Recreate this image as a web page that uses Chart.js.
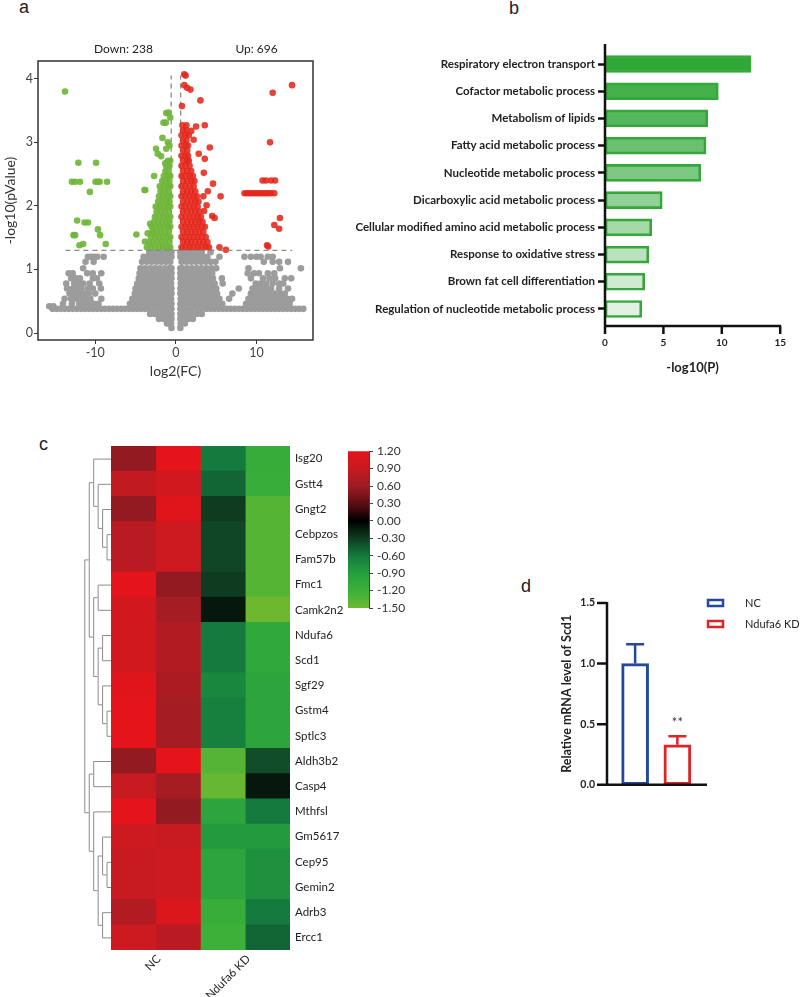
<!DOCTYPE html>
<html>
<head>
<meta charset="utf-8">
<script src="https://cdn.jsdelivr.net/npm/chart.js@4.4.1/dist/chart.umd.min.js"></script>
<style>
  body { margin: 0; width: 800px; height: 997px; position: relative; overflow: hidden; background: #fff; }
  .box { position: absolute; }
  .tag { position: absolute; font: 18px/18px "Liberation Sans", Arial, sans-serif; color: #222; }
</style>
</head>
<body>
<div class="tag" style="left:19px;top:-2px">a</div>
<div class="tag" style="left:509px;top:-1px">b</div>
<div class="tag" style="left:39px;top:435px">c</div>
<div class="tag" style="left:521px;top:577px">d</div>

<div class="box" style="left:0;top:0;width:330px;height:390px"><canvas id="volcano"></canvas></div>
<div class="box" style="left:330px;top:0;width:470px;height:380px"><canvas id="enrich"></canvas></div>
<div class="box" style="left:0;top:430px;width:350px;height:567px"><canvas id="heat"></canvas></div>
<div class="box" style="left:340px;top:440px;width:90px;height:180px"><canvas id="cbar"></canvas></div>
<div class="box" style="left:520px;top:570px;width:280px;height:240px"><canvas id="scd1"></canvas></div>

<script>
/* global Chart */
const $ = (sel) => document.querySelector(sel);
const FONT = "Lato, 'Open Sans', sans-serif";
const INK = "#222";

// ---------- a: volcano ----------
const volcanoTicksX = [-10, 0, 10];
const volcanoTicksY = [0, 1, 2, 3, 4];
const fcCut = 0.585;
const pCut = 1.3;
const downCount = 238;
const upCount = 696;

const grayRows = [
  [1.27, [-3.3, -2.8, -2.3, -1.8, -1.3, -0.8, -0.55, 0.55, 0.8, 1.3, 1.8, 2.3, 2.8, 3.2, 4.3]],
  [1.2, [-10.9, -10.5, -10.1, -9.75, -8.96, -4.0, -3.5, -3.0, -2.5, -2.0, -1.5, -1.0, -0.55, 0.55, 0.9, 1.4, 1.9, 2.4, 2.9, 3.4, 3.9, 5.4, 8.5, 9.3, 10.0, 10.5, 11.4, 12.0]],
  [1.12, [-11.2, -10.2, -4.2, -3.6, -3.0, -2.4, -1.8, -1.2, -0.7, 0.7, 1.3, 1.9, 2.5, 3.1, 3.7, 4.3, 4.9, 10.9, 12.0, 12.8, 13.9]],
  [1.02, [-11.5, -4.4, -3.8, -3.2, -2.6, -2.0, -1.4, -0.8, -0.55, 0.55, 0.8, 1.4, 2.0, 2.6, 3.2, 3.8, 4.4, 5.0, 9.0, 12.9, 15.5]],
  [0.94, [-13.3, -12.8, -11.0, -10.3, -9.25, -4.5, -3.9, -3.3, -2.7, -2.1, -1.5, -0.9, -0.55, 0.55, 0.9, 1.5, 2.1, 2.7, 3.3, 3.9, 4.5, 8.9, 9.7, 10.3, 11.4, 12.2]],
  [0.86, [-13.0, -12.4, -11.9, -10.3, -9.8, -4.6, -4.0, -3.4, -2.8, -2.2, -1.6, -1.0, -0.55, 0.55, 1.0, 1.6, 2.2, 2.8, 3.4, 4.0, 4.6, 5.7, 9.3, 10.8, 11.6, 12.3, 13.5, 14.3]],
  [0.78, [-13.6, -12.6, -12.0, -11.5, -10.7, -9.5, -4.8, -4.2, -3.6, -3.0, -2.4, -1.8, -1.2, -0.6, 0.6, 1.2, 1.8, 2.4, 3.0, 3.6, 4.2, 4.8, 5.8, 9.9, 10.5, 11.2, 12.0, 12.8, 13.3]],
  [0.7, [-13.5, -12.8, -12.2, -11.7, -10.9, -10.3, -9.3, -5.0, -4.4, -3.8, -3.2, -2.6, -2.0, -1.4, -0.8, -0.55, 0.55, 0.8, 1.4, 2.0, 2.6, 3.2, 3.8, 4.4, 5.0, 7.8, 9.5, 10.1, 10.7, 11.3, 11.8, 12.8, 13.9]],
  [0.62, [-13.2, -12.6, -12.0, -11.4, -10.8, -10.0, -5.1, -4.5, -3.9, -3.3, -2.7, -2.1, -1.5, -0.9, -0.55, 0.55, 0.9, 1.5, 2.1, 2.7, 3.3, 3.9, 4.5, 5.1, 7.0, 9.3, 9.9, 10.5, 11.1, 11.7, 12.3, 12.9, 13.5]],
  [0.54, [-13.8, -13.0, -12.4, -11.8, -11.2, -10.6, -9.25, -5.4, -4.8, -4.2, -3.6, -3.0, -2.4, -1.8, -1.2, -0.6, 0.6, 1.2, 1.8, 2.4, 3.0, 3.6, 4.2, 4.8, 5.4, 6.6, 9.0, 9.6, 10.2, 10.8, 11.4, 12.0, 12.6, 13.2, 13.8, 14.4]],
  [0.46, [-14.0, -12.9, -12.0, -11.4, -10.8, -10.2, -9.6, -5.7, -5.1, -4.5, -3.9, -3.3, -2.7, -2.1, -1.5, -0.9, -0.55, 0.55, 0.9, 1.5, 2.1, 2.7, 3.3, 3.9, 4.5, 5.1, 5.75, 8.7, 9.3, 9.9, 10.5, 11.1, 11.7, 12.3, 12.9, 13.5, 14.1]],
  [0.42, [-15.7, -15.2]],
  [0.38, [-15.3, -14.8, -14.3, -13.8, -13.3, -12.8, -12.3, -11.8, -11.3, -10.8, -10.3, -9.8, -9.3, -8.8, -8.3, -7.8, -7.3, -6.8, -6.3, -5.8, -5.3, -4.8, -4.3, -3.8, -3.3, -2.7, -2.1, -1.5, -0.9, -0.55, 0.55, 0.9, 1.5, 2.1, 2.7, 3.3, 3.8, 4.3, 4.8, 5.3, 5.8, 6.3, 6.8, 7.3, 7.8, 8.3, 8.8, 9.3, 9.8, 10.3, 10.8, 11.3, 11.8, 12.3, 12.8, 13.3, 13.8, 14.3, 14.8, 15.3, 15.8]],
  [0.3, [-3.2, -2.6, -2.0, -1.4, -0.9, -0.55, 0.55, 0.9, 1.4, 2.0, 2.6, 3.2]],
  [0.22, [-2.1, -1.5, -0.9, -0.55, 0.55, 0.9, 1.5, 2.1]],
  [0.15, [-1.1, -0.6, 0.6, 1.1]],
  [0.08, [-0.55, 0.55]],
];

const greenRows = [
  [1.35, [-3.6, -3.1, -2.6, -2.1, -1.6, -1.1, -0.7]],
  [1.43, [-3.3, -2.8, -2.3, -1.8, -1.3, -0.8]],
  [1.51, [-3.1, -2.6, -2.1, -1.6, -1.1, -0.7]],
  [1.59, [-2.9, -2.4, -1.9, -1.4, -0.9]],
  [1.67, [-3.0, -2.5, -2.0, -1.5, -1.0, -0.7]],
  [1.75, [-2.7, -2.2, -1.7, -1.2, -0.8]],
  [1.83, [-2.6, -2.1, -1.6, -1.1, -0.7]],
  [1.91, [-2.4, -1.9, -1.4, -0.9]],
  [1.99, [-2.5, -2.0, -1.5, -1.0, -0.7]],
  [2.07, [-2.2, -1.7, -1.2, -0.8]],
  [2.15, [-2.1, -1.6, -1.1, -0.7]],
  [2.23, [-1.9, -1.4, -0.9]],
  [2.31, [-2.0, -1.5, -1.0, -0.7]],
  [2.39, [-1.7, -1.2, -0.8]],
  [2.47, [-1.5, -1.0, -0.7]],
  [2.55, [-1.3, -0.9]],
  [2.63, [-1.2, -0.8]],
  [2.71, [-1.0, -0.7]],
];
const greenSingles = [
  [-13.75, 3.8], [-12.1, 2.68], [-9.9, 2.68], [-12.9, 2.38], [-12.5, 2.38], [-11.9, 2.38],
  [-9.96, 2.38], [-9.67, 2.38], [-9.46, 2.38], [-8.54, 2.38], [-10.67, 2.22], [-12.25, 1.77],
  [-11.33, 1.74], [-10.9, 1.74], [-12.7, 1.54], [-12.5, 1.54], [-9.67, 1.63], [-9.4, 1.54],
  [-11.96, 1.38], [-11.5, 1.4], [-8.7, 1.4], [-3.9, 2.25], [-3.8, 2.25], [-4.9, 1.55],
  [-2.7, 2.47], [-2.46, 2.9], [-2.25, 2.82], [-1.67, 3.07], [-1.54, 3.31], [-1.25, 3.31],
  [-1.2, 3.46], [-0.92, 3.47], [-0.7, 3.39], [-1.83, 2.78], [-1.33, 2.67], [-3.83, 1.44],
  [-3.2, 1.72], [-2.8, 1.57], [-3.5, 1.57], [-1.0, 3.0], [-0.8, 2.95], [-1.2, 2.9],
];

const redRows = [
  [1.35, [0.7, 1.2, 1.7, 2.2, 2.7, 3.2, 3.7, 4.1]],
  [1.43, [0.9, 1.4, 1.9, 2.4, 2.9, 3.4, 3.9]],
  [1.51, [0.7, 1.2, 1.7, 2.2, 2.7, 3.2, 3.7]],
  [1.59, [0.9, 1.4, 1.9, 2.4, 2.9, 3.4]],
  [1.67, [0.7, 1.2, 1.7, 2.2, 2.7, 3.2, 3.6]],
  [1.75, [0.9, 1.4, 1.9, 2.4, 2.9, 3.3]],
  [1.83, [0.7, 1.2, 1.7, 2.2, 2.7, 3.1]],
  [1.91, [0.9, 1.4, 1.9, 2.4, 2.9]],
  [1.99, [0.7, 1.2, 1.7, 2.2, 2.7]],
  [2.07, [0.9, 1.4, 1.9, 2.4, 2.8]],
  [2.15, [0.7, 1.2, 1.7, 2.2, 2.6]],
  [2.23, [0.9, 1.4, 1.9, 2.4]],
  [2.31, [0.7, 1.2, 1.7, 2.2]],
  [2.39, [0.9, 1.4, 1.9, 2.3]],
  [2.47, [0.7, 1.2, 1.7, 2.1]],
  [2.55, [0.9, 1.4, 1.9]],
  [2.63, [0.7, 1.2, 1.7]],
  [2.71, [0.9, 1.4, 1.6]],
  [2.79, [0.7, 1.2, 1.5]],
  [2.87, [0.9, 1.4]],
  [2.95, [0.7, 1.2, 1.5]],
  [3.03, [0.9, 1.3]],
  [3.11, [0.7, 1.2, 1.6]],
  [3.19, [0.9, 1.3]],
  [3.27, [0.8, 1.3]],
  [2.2, [8.5, 8.8, 9.1, 9.4, 9.7, 10.0, 10.3, 10.6, 10.9, 11.2, 11.5, 11.8, 12.2]],
];
const redSingles = [
  [1.04, 4.07], [1.2, 4.05], [1.04, 3.9], [1.38, 3.86], [1.8, 3.83], [3.04, 3.66], [14.4, 3.9],
  [12.0, 3.78], [0.75, 3.57], [3.58, 3.27], [11.67, 3.0], [4.2, 2.92], [2.83, 2.82], [3.58, 2.74],
  [4.6, 2.35], [10.75, 2.4], [11.17, 2.4], [11.8, 2.4], [12.3, 2.4], [5.54, 2.15], [3.96, 2.23],
  [4.5, 1.84], [4.8, 1.81], [12.9, 1.81], [12.2, 1.7], [12.8, 1.64], [3.8, 2.01], [3.4, 2.15],
  [11.3, 1.38], [11.45, 1.36], [5.4, 1.35], [6.2, 1.31], [1.9, 3.18], [2.2, 3.04], [3.46, 2.52],
  [3.5, 1.92], [2.5, 3.25],
];

// ---------- b: enrichment ----------
const terms = [
  "Respiratory electron transport",
  "Cofactor metabolic process",
  "Metabolism of lipids",
  "Fatty acid metabolic process",
  "Nucleotide metabolic process",
  "Dicarboxylic acid metabolic process",
  "Cellular modified amino acid metabolic process",
  "Response to oxidative stress",
  "Brown fat cell differentiation",
  "Regulation of nucleotide metabolic process",
];
const termScores = [12.5, 9.7, 8.8, 8.65, 8.2, 4.9, 4.0, 3.75, 3.4, 3.15];
const enrichTicks = [0, 5, 10, 15];

// ---------- c: heatmap ----------
const genes = ["Isg20", "Gstt4", "Gngt2", "Cebpzos", "Fam57b", "Fmc1", "Camk2n2", "Ndufa6", "Scd1", "Sgf29",
  "Gstm4", "Sptlc3", "Aldh3b2", "Casp4", "Mthfsl", "Gm5617", "Cep95", "Gemin2", "Adrb3", "Ercc1"];
const heatNC1 = [0.55, 0.85, 0.55, 0.8, 0.8, 1.2, 1.0, 1.0, 1.0, 1.15, 1.2, 1.2, 0.55, 0.9, 1.2, 0.95, 0.9, 0.9, 0.75, 0.95];
const heatNC2 = [1.2, 1.0, 1.15, 0.95, 0.95, 0.55, 0.65, 0.75, 0.75, 0.7, 0.65, 0.65, 1.2, 0.65, 0.55, 0.9, 0.95, 0.95, 1.1, 0.8];
const heatKD1 = [-0.6, -0.5, -0.3, -0.35, -0.35, -0.3, -0.12, -0.6, -0.6, -0.7, -0.65, -0.65, -1.35, -1.45, -1.0, -0.85, -1.0, -1.0, -1.15, -1.2];
const heatKD2 = [-1.1, -1.15, -1.35, -1.35, -1.35, -1.35, -1.5, -1.05, -1.05, -1.0, -1.0, -1.0, -0.38, -0.12, -0.6, -0.85, -0.78, -0.78, -0.6, -0.5];
const heatColumns = [heatNC1, heatNC2, heatKD1, heatKD2];
const groupNames = ["NC", "Ndufa6 KD"];
const groupSize = [2, 2];
// [childA, childB, level]; leaves 0-19, merges numbered from 20
const dendroMerges = [
  [3, 4, 1], [2, 20, 2], [1, 21, 3], [0, 22, 4],
  [5, 6, 3], [10, 11, 1], [9, 25, 2], [7, 8, 2], [27, 26, 3], [24, 28, 4], [23, 29, 5],
  [12, 13, 4], [16, 17, 1], [15, 32, 2], [18, 19, 2], [33, 34, 3], [14, 35, 4], [31, 36, 5],
  [30, 37, 6],
];
const cbTicks = [1.2, 0.9, 0.6, 0.3, 0, -0.3, -0.6, -0.9, -1.2, -1.5];
const heatStops = [
  [1.2, [228, 20, 26]], [0.9, [200, 26, 33]], [0.6, [158, 28, 35]], [0.3, [90, 14, 18]], [0, [0, 0, 0]],
  [-0.3, [15, 60, 32]], [-0.6, [20, 122, 62]], [-0.9, [38, 160, 62]], [-1.2, [60, 176, 56]], [-1.5, [110, 184, 48]],
];

// ---------- d: qPCR ----------
const dGroups = ["NC", "Ndufa6 KD"];
const dMeans = [1.0, 0.33];
const dErr = [0.16, 0.07];
const dSig = ["", "**"];
const dColors = ["#24489c", "#de2428"];
const dTicks = [0, 0.5, 1, 1.5];

Chart.defaults.font.family = FONT;
Chart.defaults.color = INK;
Chart.defaults.animation = false;
Chart.defaults.plugins.legend.display = false;
Chart.defaults.plugins.tooltip.enabled = false;
Chart.defaults.responsive = true;
Chart.defaults.maintainAspectRatio = false;

const rowsToPts = (rows) => rows.flatMap(([y, xs]) => xs.map((x) => ({ x, y })));
const pairsToPts = (pairs) => pairs.map(([x, y]) => ({ x, y }));
const fixTicks = (vals) => (s) => { s.ticks = vals.map((v) => ({ value: v })); };

function heatColor(v) {
  const rgb = (c) => `rgb(${c.map(Math.round).join(",")})`;
  if (v >= heatStops[0][0]) return rgb(heatStops[0][1]);
  for (let i = 0; i < heatStops.length - 1; i++) {
    const [v0, c0] = heatStops[i];
    const [v1, c1] = heatStops[i + 1];
    if (v <= v0 && v >= v1) {
      const t = (v0 - v) / (v0 - v1);
      return rgb(c0.map((k, j) => k + (c1[j] - k) * t));
    }
  }
  return rgb(heatStops[heatStops.length - 1][1]);
}

// ---------- draw a ----------
const volcanoDeco = {
  id: "volcanoDeco",
  afterDraw(chart) {
    const { ctx, chartArea: a, scales: { x } } = chart;
    ctx.save();
    ctx.strokeStyle = "#333";
    ctx.lineWidth = 1.5;
    ctx.strokeRect(a.left, a.top, a.right - a.left, a.bottom - a.top);
    ctx.fillStyle = INK;
    ctx.font = `12px ${FONT}`;
    ctx.textAlign = "center";
    ctx.textBaseline = "middle";
    ctx.fillText(`Down: ${downCount}`, x.getPixelForValue(-6.5), a.top - 12);
    ctx.fillText(`Up: ${upCount}`, x.getPixelForValue(10), a.top - 12);
    ctx.restore();
  },
};

const dash = (pts, order) => ({
  data: pts, showLine: true, pointRadius: 0, borderColor: "#8a8a8a", borderWidth: 1.3,
  borderDash: [5, 4], order,
});

new Chart($("#volcano"), {
  type: "scatter",
  data: {
    datasets: [
      { data: rowsToPts(grayRows), backgroundColor: "#9c9c9c", pointRadius: 3.3, borderWidth: 0, order: 6 },
      dash([{ x: -fcCut, y: pCut }, { x: -fcCut, y: 4.05 }], 5),
      dash([{ x: fcCut, y: pCut }, { x: fcCut, y: 4.05 }], 5),
      { data: rowsToPts(greenRows).concat(pairsToPts(greenSingles)), backgroundColor: "rgba(112,182,58,0.92)", pointRadius: 3.3, borderWidth: 0, order: 3 },
      { data: rowsToPts(redRows).concat(pairsToPts(redSingles)), backgroundColor: "rgba(228,40,28,0.88)", pointRadius: 3.3, borderWidth: 0, order: 2 },
      dash([{ x: -13.7, y: pCut }, { x: 14.4, y: pCut }], 1),
    ],
  },
  options: {
    layout: { padding: { top: 61, right: 17, left: 0, bottom: 0 } },
    scales: {
      x: {
        min: -17.1, max: 17.0,
        afterBuildTicks: fixTicks(volcanoTicksX),
        afterFit: (s) => { s.height = 50; },
        grid: { drawOnChartArea: false, tickLength: 4, color: "#333" },
        border: { display: false },
        ticks: { font: { size: 12.5 }, color: "#444", padding: 1 },
        title: { display: true, text: "log2(FC)", font: { size: 14 }, color: "#333", padding: { top: 0, bottom: 10 } },
      },
      y: {
        min: -0.11, max: 4.28,
        afterBuildTicks: fixTicks(volcanoTicksY),
        afterFit: (s) => { s.width = 38; },
        grid: { drawOnChartArea: false, tickLength: 4, color: "#333" },
        border: { display: false },
        ticks: { font: { size: 12.5 }, color: "#444", padding: 1 },
        title: { display: true, text: "-log10(pValue)", font: { size: 14 }, color: "#333", padding: { top: 2, bottom: 0 } },
      },
    },
  },
  plugins: [volcanoDeco],
});

// ---------- draw b ----------
const enrichAxes = {
  id: "enrichAxes",
  afterDraw(chart) {
    const { ctx, chartArea: a, scales: { x } } = chart;
    const yAxis = 326;
    ctx.save();
    ctx.strokeStyle = "#111";
    ctx.lineWidth = 2.5;
    ctx.beginPath();
    ctx.moveTo(a.left, 44);
    ctx.lineTo(a.left, yAxis);
    ctx.lineTo(x.getPixelForValue(enrichTicks[enrichTicks.length - 1]) + 1, yAxis);
    enrichTicks.forEach((v) => {
      const px = x.getPixelForValue(v);
      ctx.moveTo(px, yAxis);
      ctx.lineTo(px, yAxis + 8);
    });
    ctx.stroke();
    ctx.restore();
  },
};

new Chart($("#enrich"), {
  type: "bar",
  data: {
    labels: terms,
    datasets: [{
      data: termScores,
      backgroundColor: termScores.map((_, i) => `rgba(47,168,54,${(1 - i * 0.095).toFixed(3)})`),
      borderColor: "#37a73d",
      borderWidth: 2,
      borderSkipped: false,
      barThickness: 17,
    }],
  },
  options: {
    indexAxis: "y",
    layout: { padding: { top: 50.4, right: 18.5, left: 0, bottom: 0 } },
    scales: {
      x: {
        min: 0, max: 15,
        afterBuildTicks: fixTicks(enrichTicks),
        afterFit: (s) => { s.height = 57.4; },
        grid: { display: false, drawTicks: false },
        border: { display: false },
        ticks: { font: { size: 10, weight: "bold" }, color: INK, padding: 14 },
        title: { display: true, text: "-log10(P)", font: { size: 13, weight: "bold" }, color: INK, padding: { top: 0, bottom: 4 } },
      },
      y: {
        afterFit: (s) => { s.width = 275; },
        grid: { drawOnChartArea: false, offset: false, tickLength: 7, tickWidth: 2.5, tickColor: "#111" },
        border: { display: false },
        ticks: { font: { size: 11.5, weight: "bold" }, color: INK, padding: 3 },
      },
    },
  },
  plugins: [enrichAxes],
});

// ---------- draw c ----------
const heatDeco = {
  id: "heatDeco",
  afterDraw(chart) {
    const { ctx, chartArea: a, scales: { x, y } } = chart;
    const step = 4.45;
    const nodes = genes.map((_, i) => ({ x: a.left, y: y.getPixelForValue(i) }));
    ctx.save();
    ctx.strokeStyle = "#8c8c8c";
    ctx.lineWidth = 1;
    ctx.beginPath();
    dendroMerges.forEach(([p, q, lvl]) => {
      const nx = a.left - lvl * step;
      const A = nodes[p];
      const B = nodes[q];
      ctx.moveTo(A.x, A.y + 0.5);
      ctx.lineTo(nx + 0.5, A.y + 0.5);
      ctx.lineTo(nx + 0.5, B.y + 0.5);
      ctx.lineTo(B.x, B.y + 0.5);
      nodes.push({ x: nx, y: (A.y + B.y) / 2 });
    });
    ctx.stroke();

    ctx.fillStyle = INK;
    ctx.font = `11.5px ${FONT}`;
    ctx.textAlign = "right";
    ctx.textBaseline = "middle";
    let start = 0;
    groupNames.forEach((name, g) => {
      const cx = x.getPixelForValue(start + groupSize[g] / 2) + 3;
      ctx.save();
      ctx.translate(cx, a.bottom + 7);
      ctx.rotate(-Math.PI / 4);
      ctx.fillText(name, 0, 0);
      ctx.restore();
      start += groupSize[g];
    });
    ctx.restore();
  },
};

new Chart($("#heat"), {
  type: "bar",
  data: {
    labels: genes,
    datasets: heatColumns.map((col) => ({
      data: col.map(() => 1),
      backgroundColor: col.map(heatColor),
      borderWidth: 0,
      barPercentage: 1,
      categoryPercentage: 1,
    })),
  },
  options: {
    indexAxis: "y",
    layout: { padding: { left: 111, top: 16, right: 0, bottom: 47 } },
    scales: {
      x: { stacked: true, min: 0, max: 4, display: false },
      y: {
        stacked: true,
        position: "right",
        afterFit: (s) => { s.width = 60; },
        grid: { display: false, drawTicks: false },
        border: { display: false },
        ticks: { font: { size: 11.5 }, color: INK, padding: 5 },
      },
    },
  },
  plugins: [heatDeco],
});

const cbMax = cbTicks[0];
const cbMin = cbTicks[cbTicks.length - 1];
new Chart($("#cbar"), {
  type: "bar",
  data: {
    labels: [""],
    datasets: [{
      data: [[cbMin, cbMax]],
      backgroundColor: (c) => {
        const { chart } = c;
        const ys = chart.scales.y;
        const top = ys ? ys.getPixelForValue(cbMax) : NaN;
        const bottom = ys ? ys.getPixelForValue(cbMin) : NaN;
        if (!Number.isFinite(top) || !Number.isFinite(bottom)) return "#000";
        const g = chart.ctx.createLinearGradient(0, top, 0, bottom);
        heatStops.forEach(([v]) => g.addColorStop((cbMax - v) / (cbMax - cbMin), heatColor(v)));
        return g;
      },
      borderWidth: 0,
      barPercentage: 1,
      categoryPercentage: 1,
    }],
  },
  options: {
    layout: { padding: { left: 8, top: 9, right: 0, bottom: 12 } },
    scales: {
      x: { display: false },
      y: {
        position: "right",
        min: cbMin, max: cbMax,
        afterBuildTicks: fixTicks(cbTicks),
        afterFit: (s) => { s.width = 61; },
        grid: { drawOnChartArea: false, tickLength: 4, color: "#444" },
        border: { display: true, color: "#444", width: 1 },
        ticks: { font: { size: 12 }, color: "#333", padding: 4, callback: (v) => Number(v).toFixed(2) },
      },
    },
  },
});

// ---------- draw d ----------
const scdDeco = {
  id: "scdDeco",
  afterDatasetsDraw(chart) {
    const { ctx, chartArea: a, scales: { x, y } } = chart;
    const axisX = a.left - 7;
    const base = y.getPixelForValue(0);
    ctx.save();
    ctx.strokeStyle = "#111";
    ctx.lineWidth = 2.5;
    ctx.beginPath();
    ctx.moveTo(axisX, y.getPixelForValue(dTicks[dTicks.length - 1]) - 1);
    ctx.lineTo(axisX, base);
    ctx.lineTo(axisX + 100, base);
    dTicks.forEach((v) => {
      const py = y.getPixelForValue(v);
      ctx.moveTo(axisX - 10, py);
      ctx.lineTo(axisX, py);
    });
    ctx.stroke();

    dGroups.forEach((g, i) => {
      const cx = x.getPixelForValue(i);
      const top = y.getPixelForValue(dMeans[i] + dErr[i]);
      ctx.strokeStyle = dColors[i];
      ctx.lineWidth = 2.5;
      ctx.beginPath();
      ctx.moveTo(cx, y.getPixelForValue(dMeans[i]));
      ctx.lineTo(cx, top);
      ctx.moveTo(cx - 9, top);
      ctx.lineTo(cx + 9, top);
      ctx.stroke();
      if (dSig[i]) {
        ctx.fillStyle = "#333";
        ctx.font = `13px ${FONT}`;
        ctx.textAlign = "center";
        ctx.textBaseline = "middle";
        ctx.fillText(dSig[i], cx, top - 13);
      }
    });

    // legend
    chart.data.datasets.forEach((ds, i) => {
      const ly = a.top + i * 21;
      ctx.strokeStyle = ds.borderColor;
      ctx.lineWidth = 2.5;
      ctx.strokeRect(188, ly - 3, 15, 6);
      ctx.fillStyle = INK;
      ctx.font = `11px ${FONT}`;
      ctx.textAlign = "left";
      ctx.textBaseline = "middle";
      ctx.fillText(ds.label, 225, ly);
    });
    ctx.restore();
  },
};

new Chart($("#scd1"), {
  type: "bar",
  data: {
    labels: dGroups,
    datasets: dGroups.map((g, i) => ({
      label: g,
      data: dGroups.map((_, j) => (j === i ? dMeans[i] : null)),
      backgroundColor: "#fff",
      borderColor: dColors[i],
      borderWidth: 3,
      borderSkipped: false,
      barThickness: 27,
      skipNull: true,
    })),
  },
  options: {
    layout: { padding: { top: 33, right: 101.5, left: 0, bottom: 10 } },
    scales: {
      x: { display: false },
      y: {
        min: 0, max: 1.5,
        afterBuildTicks: fixTicks(dTicks),
        afterFit: (s) => { s.width = 94; },
        grid: { display: false, drawTicks: false },
        border: { display: false },
        ticks: { font: { size: 10.5, weight: "bold" }, color: INK, padding: 19, callback: (v) => Number(v).toFixed(1) },
        title: { display: true, text: "Relative mRNA level of Scd1", font: { size: 12.5, weight: "bold" }, color: INK, padding: { top: 39, bottom: 0 } },
      },
    },
  },
  plugins: [scdDeco],
});
</script>
</body>
</html>
